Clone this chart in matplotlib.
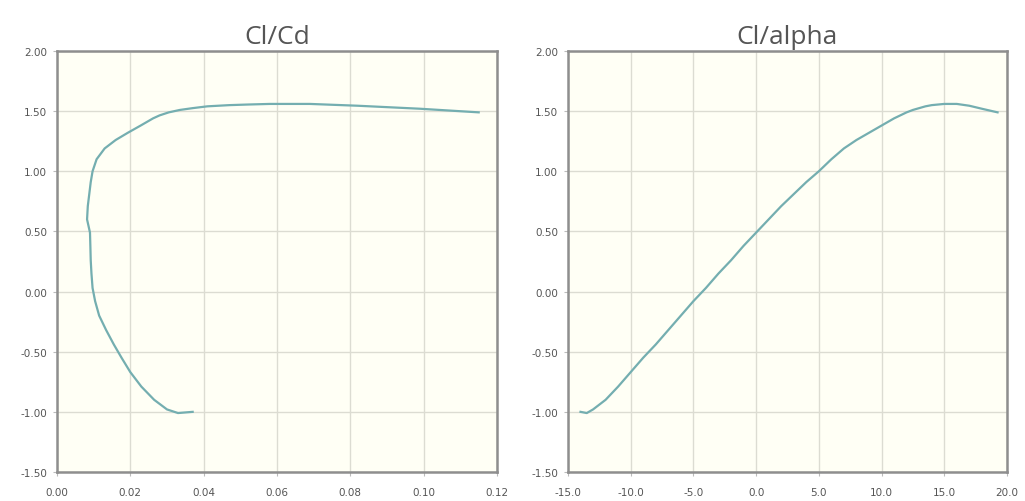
import matplotlib
matplotlib.use("Agg")
import matplotlib.pyplot as plt
from matplotlib.ticker import FormatStrFormatter

# Airfoil polar: angle of attack (deg), lift coefficient, drag coefficient
alpha = [-14.0, -13.5, -13.0, -12.0, -11.0, -10.0, -9.0, -8.0, -7.0, -6.0,
         -5.0, -4.0, -3.0, -2.0, -1.0, 0.0, 1.0, 2.0, 3.0, 4.0, 5.0, 6.0,
         7.0, 8.0, 9.0, 10.0, 11.0, 11.5, 12.0, 12.5, 13.0, 13.5, 14.0,
         14.5, 15.0, 16.0, 17.0, 18.0, 19.25]
cl = [-1.00, -1.01, -0.98, -0.90, -0.79, -0.67, -0.55, -0.44, -0.32, -0.20,
      -0.08, 0.03, 0.15, 0.26, 0.38, 0.49, 0.60, 0.71, 0.81, 0.91, 1.00,
      1.10, 1.19, 1.26, 1.32, 1.38, 1.44, 1.465, 1.49, 1.51, 1.525, 1.54,
      1.55, 1.555, 1.56, 1.56, 1.545, 1.52, 1.49]
cd = [0.0370, 0.0330, 0.0300, 0.0265, 0.0230, 0.0200, 0.0176, 0.0155,
      0.0134, 0.0115, 0.0104, 0.0097, 0.0094, 0.0092, 0.0091, 0.0090,
      0.0082, 0.0084, 0.0088, 0.0092, 0.0097, 0.0108, 0.0130, 0.0160,
      0.0193, 0.0228, 0.0262, 0.0280, 0.0305, 0.0335, 0.0370, 0.0410,
      0.0470, 0.0520, 0.0580, 0.0690, 0.0820, 0.0990, 0.1150]

cd_ticks = [0.00, 0.02, 0.04, 0.06, 0.08, 0.10, 0.12]
alpha_ticks = [-15.0, -10.0, -5.0, 0.0, 5.0, 10.0, 15.0, 20.0]
cl_ticks = [-1.50, -1.00, -0.50, 0.00, 0.50, 1.00, 1.50, 2.00]

line_color = "#74aeb0"
bg_color = "#fffff5"
grid_color = "#dcdcd2"
frame_color = "#8e8e8e"
text_color = "#555555"

fig = plt.figure(figsize=(10.25, 5.02), dpi=100)
fig.patch.set_facecolor("white")

ax1 = fig.add_axes([0.0556, 0.0578, 0.4293, 0.8386])
ax2 = fig.add_axes([0.5541, 0.0578, 0.4283, 0.8386])

panels = [
    (ax1, cd, cl, cd_ticks, "%.2f", "Cl/Cd"),
    (ax2, alpha, cl, alpha_ticks, "%.1f", "Cl/alpha"),
]

for ax, xs, ys, xticks, xfmt, title in panels:
    ax.set_facecolor(bg_color)
    ax.plot(xs, ys, color=line_color, linewidth=1.6, solid_joinstyle="round",
            zorder=3)
    ax.set_xlim(xticks[0], xticks[-1])
    ax.set_ylim(cl_ticks[0], cl_ticks[-1])
    ax.set_xticks(xticks)
    ax.set_yticks(cl_ticks)
    ax.xaxis.set_major_formatter(FormatStrFormatter(xfmt))
    ax.yaxis.set_major_formatter(FormatStrFormatter("%.2f"))
    ax.grid(True, color=grid_color, linewidth=1.0, zorder=1)
    ax.set_axisbelow(True)
    for side in ax.spines.values():
        side.set_color(frame_color)
        side.set_linewidth(1.8)
    ax.tick_params(axis="both", length=3, width=0.8, color="#bbbbbb",
                   labelsize=7.5, labelcolor=text_color)
    ax.tick_params(axis="x", pad=8)
    ax.tick_params(axis="y", pad=4)
    ax.set_title(title, fontsize=19, color=text_color, pad=6,
                 family="Open Sans")

fig.savefig("out.png", dpi=100, facecolor="white")
